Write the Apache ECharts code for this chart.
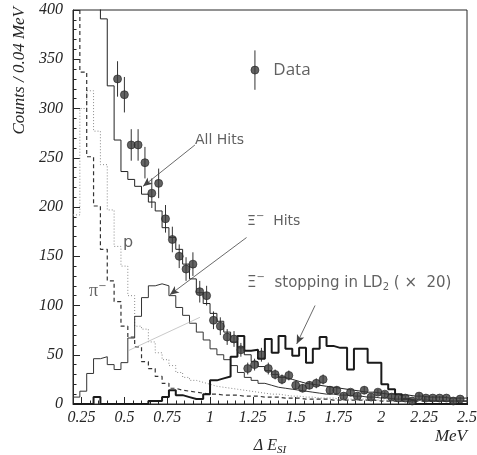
<!DOCTYPE html>
<html>
<head>
<meta charset="utf-8">
<script src="https://cdn.jsdelivr.net/npm/echarts@6/dist/echarts.min.js"></script>
<style>
  html, body { margin: 0; padding: 0; background: #fff; }
  #chart { width: 477px; height: 455px; }
</style>
</head>
<body>
<div id="chart"></div>
<script>
// histogram bins: 0.04 MeV wide, first bin starts at 0.2 MeV
var binStart = 0.2;
var binWidth = 0.04;

// MC histograms (counts per bin, k = 0..57)
var allHits = [480, 460, 440, 420, 391, 323, 268, 236, 228, 221,
               213, 205, 196, 179, 169, 157, 142, 127, 113, 102,
               92, 84, 73, 63, 57, 50, 43, 38, 34, 30,
               27, 25, 23, 21, 20, 19, 18, 17, 16, 15,
               14, 13, 12, 12, 11, 10, 10, 9, 9, 8,
               8, 7, 7, 7, 6, 6, 6, 6];
var xiHits = [7, 13, 31, 46, 48, 40, 35, 42, 67, 89,
              108, 120, 122, 120, 110, 98, 90, 82, 73, 65,
              56, 50, 45, 39, 32, 27, 24, 21, 19, 17,
              16, 15, 14, 13, 12, 11, 10, 10, 9, 9,
              8, 8, 7, 7, 6, 6, 5, 5, 5, 4,
              4, 4, 3, 3, 3, 3, 3, 3];
var xiStopping = [0, 0, 0, 7, 0, 0, 0, 0, 0, 0,
                  0, 3, 3, 7, 14, 9, 7, 5, 5, 10,
                  24, 26, 28, 48, 69, 54, 55, 46, 66, 52,
                  69, 56, 49, 57, 42, 56, 68, 59, 57, 57,
                  35, 56, 56, 42, 42, 20, 15, 10, 5, 3,
                  0, 0, 0, 0, 0, 0, 0, 0];
var pionHits = [450, 337, 251, 201, 157, 125, 104, 79, 68, 58,
                43, 36, 28, 21, 16, 14, 13, 12, 11, 10,
                10, 9, 9, 9, 8, 8, 8, 7, 7, 7,
                6, 6, 6, 5, 5, 5, 5, 4, 4, 4,
                4, 4, 4, 4, 3, 3, 3, 3, 3, 3,
                3, 3, 3, 3, 3, 3, 3, 3];
var protonHits = [192, 300, 318, 277, 243, 197, 160, 140, 110, 79,
                  76, 63, 52, 45, 39, 32, 27, 24, 22, 20,
                  18, 17, 16, 15, 14, 13, 12, 11, 10, 10,
                  9, 8, 8, 7, 7, 6, 6, 6, 5, 5,
                  5, 5, 5, 4, 4, 4, 4, 4, 4, 4,
                  3, 3, 3, 3, 3, 3, 3, 3];

// measured data points
var dataX = [0.46, 0.50, 0.54, 0.58, 0.62, 0.66, 0.70, 0.74, 0.78, 0.82,
             0.86, 0.90, 0.94, 0.98, 1.02, 1.06, 1.10, 1.14, 1.18, 1.22,
             1.26, 1.30, 1.34, 1.38, 1.42, 1.46, 1.50, 1.54, 1.58, 1.62,
             1.66, 1.70, 1.74, 1.78, 1.82, 1.86, 1.90, 1.94, 1.98, 2.02,
             2.06, 2.10, 2.14, 2.18, 2.22, 2.26, 2.30, 2.34, 2.38, 2.42, 2.46];
var dataY = [330, 314, 263, 263, 245, 214, 224, 188, 167, 150,
             137, 142, 114, 110, 85, 79, 68, 66, 55, 36,
             40, 50, 36, 30, 25, 29, 19, 16, 19, 21,
             25, 14, 14, 8, 12, 8, 14, 7, 12, 10,
             7, 6, 6, 3, 8, 6, 6, 6, 6, 3, 5];
var dataErr = [18, 18, 16, 16, 16, 15, 15, 14, 13, 12,
               12, 12, 11, 10, 9, 9, 8, 8, 7, 6,
               6, 7, 6, 5, 5, 5, 4, 4, 4, 5,
               5, 4, 4, 3, 3, 3, 4, 3, 3, 3,
               3, 2, 2, 2, 3, 2, 2, 2, 2, 2, 2];

var xMajorTicks = [0.25, 0.5, 0.75, 1, 1.25, 1.5, 1.75, 2, 2.25, 2.5];
var xMinorTicks = [];
for (var t = 0; t <= 46; t++) xMinorTicks.push(+(0.2 + t * 0.05).toFixed(2));

var serif = 'Liberation Serif';
var sans = "'DejaVu Sans'";
var ink = '#262626';

function histo(vals) {
  var pts = [];
  for (var i = 0; i < vals.length; i++) {
    pts.push([+(binStart + i * binWidth).toFixed(2), vals[i]]);
  }
  pts.push([+(binStart + vals.length * binWidth).toFixed(2), vals[vals.length - 1]]);
  return pts;
}

function histSeries(name, vals, width, dash, color) {
  return {
    name: name,
    type: 'line',
    step: 'end',
    data: histo(vals),
    symbol: 'none',
    silent: true,
    animation: false,
    lineStyle: { width: width, type: dash, color: color }
  };
}

var points = [];
var errPoints = [];
for (var i = 0; i < dataX.length; i++) {
  points.push([dataX[i], dataY[i]]);
  errPoints.push([dataX[i], dataY[i], dataErr[i]]);
}
// legend marker "Data"
errPoints.push([1.262, 339, 20]);

var noteColor = '#3a3a3a';
var noteRich = {
  t: { fontFamily: sans, fontSize: 14, color: noteColor, lineHeight: 20 },
  w: { fontFamily: sans, fontSize: 15, color: noteColor, lineHeight: 20 },
  big: { fontFamily: "'Open Sans', 'DejaVu Sans'", fontSize: 17, color: noteColor, lineHeight: 20 },
  sup: { fontFamily: sans, fontSize: 10, color: noteColor, verticalAlign: 'top', lineHeight: 20 },
  sub: { fontFamily: sans, fontSize: 10, color: noteColor, verticalAlign: 'bottom', lineHeight: 20 },
  pi: { fontFamily: serif, fontSize: 18, color: noteColor, lineHeight: 20 },
  p: { fontFamily: sans, fontSize: 16, color: noteColor, lineHeight: 20 }
};

function note(x, y, text, align) {
  return {
    value: [x, y],
    label: { show: true, position: 'inside', align: align || 'left', verticalAlign: 'middle',
      formatter: text, rich: noteRich }
  };
}

var chart = echarts.init(document.getElementById('chart'));
chart.setOption({
  animation: false,
  grid: { left: 73, right: 10, top: 10, bottom: 51, show: true, borderColor: ink, borderWidth: 1,
    outerBoundsMode: 'none', containLabel: false },
  xAxis: [{
    type: 'value', min: 0.2, max: 2.5, position: 'bottom',
    axisLine: { show: true, lineStyle: { color: ink, width: 1 } },
    axisTick: { show: true, inside: true, length: 7, customValues: xMajorTicks, lineStyle: { color: ink } },
    axisLabel: { customValues: xMajorTicks, fontFamily: serif, fontStyle: 'italic', fontSize: 16, color: ink, margin: 6 },
    splitLine: { show: false },
    name: '{a|Δ E}{s|SI}',
    nameLocation: 'middle',
    nameGap: 32,
    nameTextStyle: {
      rich: {
        a: { fontFamily: serif, fontStyle: 'italic', fontSize: 16, color: ink, lineHeight: 20 },
        s: { fontFamily: serif, fontStyle: 'italic', fontSize: 11, color: ink, verticalAlign: 'bottom', lineHeight: 20 }
      }
    }
  }, {
    type: 'value', min: 0.2, max: 2.5, position: 'bottom',
    axisLine: { show: false },
    axisTick: { show: true, inside: true, length: 3.5, customValues: xMinorTicks, lineStyle: { color: ink } },
    axisLabel: { show: false },
    splitLine: { show: false }
  }],
  yAxis: {
    type: 'value', min: 0, max: 400, interval: 50,
    axisLine: { show: true, lineStyle: { color: ink, width: 1 } },
    axisTick: { show: true, inside: true, length: 7, lineStyle: { color: ink } },
    minorTick: { show: true, splitNumber: 5, length: 3.5, lineStyle: { color: ink } },
    axisLabel: { fontFamily: serif, fontStyle: 'italic', fontSize: 16, color: ink, margin: 10 },
    splitLine: { show: false },
    minorSplitLine: { show: false }
  },
  graphic: [{
    type: 'text', x: 20, y: 7, rotation: Math.PI / 2,
    style: { text: 'Counts / 0.04 MeV', font: 'italic 17px "Liberation Serif"', fill: ink, align: 'right', verticalAlign: 'middle' }
  }, {
    type: 'text', x: 467, y: 437,
    style: { text: 'MeV', font: 'italic 17px "Liberation Serif"', fill: ink, align: 'right', verticalAlign: 'middle' }
  }],
  series: [
    histSeries('p', protonHits, 1, [1, 2], '#8a8a8a'),
    histSeries('pi', pionHits, 1.2, [4, 3], '#333'),
    histSeries('Xi hits', xiHits, 1, 'solid', '#333'),
    histSeries('All hits', allHits, 1, 'solid', '#222'),
    histSeries('Xi stopping x20', xiStopping, 2, 'solid', '#1a1a1a'),
    {
      name: 'errors', type: 'custom', data: errPoints, silent: true, z: 3,
      renderItem: function (params, api) {
        var x = api.value(0), y = api.value(1), e = api.value(2);
        var top = api.coord([x, y + e]);
        var bot = api.coord([x, y - e]);
        return { type: 'line', shape: { x1: top[0], y1: top[1], x2: bot[0], y2: bot[1] },
          style: { stroke: '#333', lineWidth: 1 } };
      }
    },
    {
      name: 'Data', type: 'scatter', data: points, symbol: 'circle', symbolSize: 8, z: 4, silent: true,
      itemStyle: { color: '#3c3c3c', borderColor: '#222', borderWidth: 0.8 }
    },
    {
      name: 'legend', type: 'scatter', symbolSize: 8, z: 4, silent: true,
      itemStyle: { color: '#3c3c3c', borderColor: '#222', borderWidth: 0.8 },
      data: [{ value: [1.262, 339], label: { show: true, position: 'right', distance: 14,
        formatter: '{big|Data}', rich: noteRich } }]
    },
    {
      name: 'notes', type: 'scatter', symbolSize: 0, silent: true, z: 5,
      data: [
        note(0.912, 268, '{t|All Hits}'),
        note(1.216, 185, '{t|Ξ}{sup|−}{t|  Hits}'),
        note(1.216, 123, '{w|Ξ}{sup|−}{w|  stopping in LD}{sub|2}{w| ( ×  20)}'),
        note(0.521, 164, '{p|p}', 'center'),
        note(0.345, 114, '{pi|π}{sup|−}', 'center')
      ],
      markLine: {
        silent: true, animation: false,
        symbol: ['none', 'arrow'], symbolSize: [6, 9],
        label: { show: false },
        lineStyle: { color: '#444', width: 0.8, type: 'solid' },
        data: [
          [{ coord: [0.912, 263] }, { coord: [0.609, 221] }],
          [{ coord: [1.213, 169] }, { coord: [0.766, 111] }],
          [{ coord: [1.613, 100] }, { coord: [1.506, 61] }],
          [{ coord: [0.521, 54], symbol: 'none', lineStyle: { color: '#bbb', width: 0.8 } },
           { coord: [0.941, 88], symbol: 'none' }]
        ]
      }
    }
  ]
});
</script>
</body>
</html>
